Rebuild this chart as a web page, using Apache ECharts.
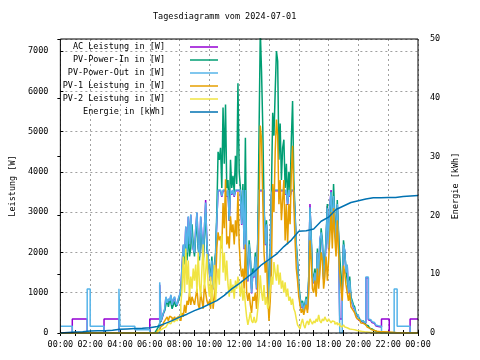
<!DOCTYPE html>
<html>
<head>
<meta charset="utf-8">
<script src="https://cdn.jsdelivr.net/npm/echarts@6/dist/echarts.min.js"></script>
<style>html,body{margin:0;padding:0;background:#fff}#c{width:480px;height:360px}</style>
</head>
<body>
<div id="c"></div>
<script>
// ---- data ----
const titleText = 'Tagesdiagramm vom 2024-07-01';
const seriesNames = ['AC Leistung in [W]', 'PV-Power-In in [W]', 'PV-Power-Out in [W]', 'PV-1 Leistung in [W]', 'PV-2 Leistung in [W]', 'Energie in [kWh]'];
const seriesColors = ['#9400d3', '#009e73', '#56b4e9', '#e69f00', '#f0e442', '#0072b2'];

// day arrays: 5-minute samples starting at 06:00
const dayStart = 6;
const samplesPerHour = 12;

// AC Leistung [W]
const acNight = [[0,0],[0.8,350],[1.8,0],[2.93,350],[3.93,0]];
const acDay = [
  350,350,350,350,350,350,350,350,1200,280,380,480,
  580,880,730,830,780,930,680,830,880,730,680,830,
  930,1080,1680,2180,1880,2630,1980,2880,2180,2930,2380,2080,
  1980,2580,2980,2180,1880,2880,2380,1780,2580,3300,2180,1880,
  1480,1280,1780,1080,1600,1880,2810,3530,3530,3530,3380,3530,
  3530,3530,3380,3530,2780,3530,3430,3530,3380,3530,3530,3530,
  3530,3430,2680,3530,2080,3530,1680,1280,2180,1780,980,1480,
  1380,1880,1080,2280,3530,3530,3530,3530,3080,2180,2680,1480,
  380,1880,3430,3530,3530,3530,3530,3530,3530,3530,3530,3530,
  3530,3430,3530,3180,3530,3380,3530,3530,3530,2880,2080,1680,
  1080,830,630,730,530,680,830,580,1280,3200,2280,1380,
  1230,1480,1130,1980,1380,2310,2480,2180,1330,1680,2280,3150,
  2080,3150,3550,2480,3380,2780,2180,3180,2380,350,350,980,
  2180,2030,1480,1680,980,1280,830,730,630,580,430,430,
  330,300,280,260,250,240,1370,1370,330,310,280,260,
  240,210,180,160,150,150
];
const acTail = [[21.55,350],[22.07,0],[23.47,350],[24,350]];

// PV-Power-In [W]
const pvInNight = [[0,0]];
const pvInDay = [
  0,0,0,0,0,50,100,150,250,300,400,500,
  550,700,810,650,820,750,600,700,780,650,720,800,
  900,1000,1400,2000,1700,2300,1800,2500,1900,2100,2700,2200,
  1900,2400,2800,2100,1800,2600,2300,1700,2400,3000,2100,1800,
  1600,1400,1900,1200,1700,2000,3000,4500,4300,4600,3600,5600,
  4200,5675,3600,3800,2800,4300,3600,3900,3500,4400,3700,6200,
  4000,3600,2800,3700,2200,4850,1800,1400,2300,1900,1100,1600,
  1500,2000,1200,2400,5000,7500,6500,5100,3200,2300,2800,1600,
  900,2100,3600,5470,4900,6000,7000,6750,4300,5200,3800,4600,
  4800,3600,4200,3300,4000,3500,4800,5760,3800,3000,2200,1800,
  1200,900,700,800,600,750,900,650,1400,3100,2400,1500,
  1300,1600,1200,2100,1500,1900,2600,2300,1400,1800,2400,3200,
  2200,2900,3500,2600,3700,2900,2300,3300,2500,1900,1400,1100,
  2300,2000,1600,1300,1100,1400,900,800,700,650,500,450,
  400,350,300,300,280,250,200,180,150,120,100,80,
  60,40,30,20,10,0
];
const pvInTail = [[21.5,0],[24,0]];

// PV-Power-Out [W]
const pvOutNight = [[0,170],[0.8,0],[1.8,1090],[2.0,170],[2.93,0],[3.93,1100],[4.0,170],[5.0,80]];
const pvOutDay = [
  0,0,0,0,0,0,0,0,1260,300,400,500,
  600,900,750,850,800,950,700,850,900,750,700,850,
  950,1100,1700,2200,1900,2650,2000,2900,2200,2950,2400,2100,
  2000,2600,3000,2200,1900,2900,2400,1800,2600,3240,2200,1900,
  1500,1300,1800,1100,1600,1900,2830,3550,3550,3550,3400,3550,
  3550,3550,3400,3550,2800,3550,3450,3550,3400,3550,3550,3550,
  3550,3450,2700,3550,2100,3550,1700,1300,2200,1800,1000,1500,
  1400,1900,1100,2300,3550,3550,3550,3550,3100,2200,2700,1500,
  400,1900,3450,3550,3550,3550,3550,3550,3550,3550,3550,3550,
  3550,3450,3550,3200,3550,3400,3550,3550,3550,2900,2100,1700,
  1100,850,650,750,550,700,850,600,1300,3120,2300,1400,
  1250,1500,1150,2000,1400,2330,2500,2200,1350,1700,2300,3100,
  2100,3170,3500,2500,3400,2800,2200,3200,2400,0,0,1000,
  2200,2050,1500,1700,1000,1300,850,750,650,600,450,450,
  350,320,300,280,270,260,1390,1390,350,330,300,280,
  260,230,200,180,170,170
];
const pvOutTail = [[21.55,0],[22.4,1090],[22.6,170],[23.47,0],[24,0]];

// PV-1 Leistung [W]
const pv1Night = [[0,0]];
const pv1Day = [
  0,0,0,0,0,0,50,80,120,160,200,250,
  300,350,400,300,420,380,300,350,400,320,380,420,
  450,300,500,400,700,500,800,700,1000,700,900,800,
  700,900,1100,700,600,1000,800,600,1200,1000,800,700,
  800,600,1200,600,900,1200,2100,2500,2300,2400,2100,3230,
  2600,3820,2200,2400,2100,2900,2500,2700,2200,2800,2400,3500,
  2200,1675,1400,1600,1100,2200,1000,800,1000,700,500,900,
  800,1000,600,1200,3000,5150,4800,3300,2000,1500,1800,900,
  300,800,1600,3700,3000,4500,5300,4900,3200,3800,2800,3300,
  3800,2300,3200,2200,3200,2700,4000,4650,3200,2300,1600,1300,
  900,700,500,600,450,600,700,500,1000,2300,1800,1100,
  1000,1300,900,1600,1100,1500,2000,1800,1100,1400,1900,1300,
  1800,2400,3000,2100,3100,2400,1900,2800,2000,1500,1100,800,
  1675,1500,1200,1000,800,1000,650,600,550,500,400,350,
  320,280,250,240,220,200,170,150,120,100,80,70,
  60,50,45,40,35,30
];
const pv1Tail = [[21.5,25],[22.0,15],[22.5,0],[24,0]];

// PV-2 Leistung [W]
const pv2Night = [[0,0]];
const pv2Day = [
  0,0,0,0,0,0,30,50,80,100,120,150,
  150,180,200,250,230,260,300,280,320,350,300,380,
  420,700,1100,1900,1000,2100,1200,1800,900,1400,1100,1600,
  1300,1700,1000,2000,1200,900,1600,2200,1100,1500,1960,1200,
  900,1400,700,1200,1690,800,1300,1600,1200,2180,2450,1500,
  2000,1300,1800,1200,900,1340,1000,1200,850,1300,1100,1400,
  1200,900,1300,800,1100,700,400,200,350,520,300,250,
  400,250,300,600,900,1430,1000,800,1190,700,900,600,
  700,1100,1400,1200,1760,1500,1300,1700,1200,1500,1100,1300,
  1000,1260,900,1100,800,900,700,850,600,520,350,200,
  150,100,250,350,200,120,250,300,200,350,280,220,
  300,250,350,280,450,300,250,350,300,400,330,280,
  350,300,250,300,280,220,260,200,240,180,150,170,
  200,150,130,120,100,110,90,100,80,70,60,60,
  50,50,40,40,30,30,25,25,20,20,10,10,
  0,0,0,0,0,0
];
const pv2Tail = [[24,0]];

// Energie [kWh], 30-minute samples from 00:00 to 24:00
const energyHours = [0,0.5,1,1.5,2,2.5,3,3.5,4,4.5,5,5.5,6,6.5,7,7.5,8,8.5,9,9.5,10,10.5,11,11.5,12,12.5,13,13.5,14,14.5,15,15.5,16,16.5,17,17.5,18,18.5,19,19.5,20,20.5,21,21.5,22,22.5,23,23.5,24];
const energyKWh = [0,0.1,0.15,0.2,0.35,0.4,0.4,0.45,0.65,0.7,0.75,0.8,0.9,1.1,1.6,2.1,2.7,3.2,3.8,4.3,4.9,5.5,6.4,7.5,8.4,9.4,10.4,11.6,12.5,13.4,14.7,15.8,17.3,17.4,17.7,19.0,19.7,21.0,21.6,22.2,22.5,22.8,23.0,23.0,23.05,23.05,23.2,23.3,23.4];

// ---- build ----
function dayPoints(arr) { return arr.map((v, i) => [dayStart + i / samplesPerHour, v]); }
const FONT = 'DejaVu Sans Mono';
const FS = 8.5;

const chart = echarts.init(document.getElementById('c'), null, {renderer: 'canvas'});

function powerSeries(idx, data) {
  return {
    name: seriesNames[idx], type: 'line', xAxisIndex: 0, yAxisIndex: 0,
    step: 'end', showSymbol: false, symbol: 'none', data: data,
    lineStyle: {width: 1.5, color: seriesColors[idx]},
    itemStyle: {color: seriesColors[idx]},
    emphasis: {disabled: true}
  };
}

const option = {
  animation: false,
  backgroundColor: '#fff',
  title: {
    text: titleText, left: 153, top: 12, padding: 0,
    textStyle: {fontFamily: FONT, fontSize: FS, fontWeight: 'normal', color: '#000'}
  },
  legend: {
    orient: 'vertical', left: 55, top: 42, padding: 0, itemGap: 3,
    align: 'right', icon: 'rect', itemWidth: 28, itemHeight: 1.5,
    data: seriesNames,
    formatter: n => '{a|' + n + '}{b|}',
    textStyle: {
      fontFamily: FONT, fontSize: FS, color: '#000', lineHeight: 10,
      rich: {a: {width: 110, align: 'right', fontFamily: FONT, fontSize: FS, color: '#000', lineHeight: 10}, b: {width: 20}}
    }
  },
  grid: {left: 58, right: 62, top: 39, bottom: 27, show: true, borderColor: '#000', borderWidth: 1, z: 10, backgroundColor: 'transparent'},
  xAxis: [{
    type: 'value', min: 0, max: 24, interval: 2,
    axisLine: {show: false},
    axisTick: {show: true, inside: true, length: 3, lineStyle: {color: '#000'}},
    minorTick: {show: true, splitNumber: 2, length: 3, lineStyle: {color: '#000'}},
    splitLine: {show: true, lineStyle: {color: '#a0a0a0', type: [2, 3], width: 1}},
    axisLabel: {
      margin: 7, fontFamily: FONT, fontSize: FS, color: '#000',
      formatter: v => String(v % 24).padStart(2, '0') + ':00'
    }
  }, {
    type: 'value', position: 'top', min: 0, max: 24, interval: 2,
    axisLine: {show: false},
    axisTick: {show: true, inside: true, length: 3, lineStyle: {color: '#000'}},
    minorTick: {show: true, splitNumber: 2, length: 3, lineStyle: {color: '#000'}},
    splitLine: {show: false}, axisLabel: {show: false}
  }],
  yAxis: [{
    type: 'value', min: 0, max: 7300, interval: 1000, position: 'left',
    name: 'Leistung [W]', nameLocation: 'middle', nameGap: 43,
    nameTextStyle: {fontFamily: FONT, fontSize: FS, color: '#000'},
    axisLine: {show: false},
    axisTick: {show: true, inside: true, length: 3, lineStyle: {color: '#000'}},
    splitLine: {show: true, lineStyle: {color: '#a0a0a0', type: [2, 3], width: 1}},
    axisLabel: {margin: 12, fontFamily: FONT, fontSize: FS, color: '#000', showMaxLabel: false,
      formatter: v => (v % 1000 === 0 ? String(v) : '')}
  }, {
    type: 'value', min: 0, max: 50, interval: 10, position: 'right',
    name: 'Energie [kWh]', nameLocation: 'middle', nameGap: 33,
    nameTextStyle: {fontFamily: FONT, fontSize: FS, color: '#000'},
    axisLine: {show: false},
    axisTick: {show: true, inside: true, length: 3, lineStyle: {color: '#000'}},
    splitLine: {show: false},
    axisLabel: {margin: 12, fontFamily: FONT, fontSize: FS, color: '#000'}
  }],
  series: [
    powerSeries(0, acNight.concat(dayPoints(acDay), acTail)),
    powerSeries(1, pvInNight.concat(dayPoints(pvInDay), pvInTail)),
    powerSeries(2, pvOutNight.concat(dayPoints(pvOutDay), pvOutTail)),
    powerSeries(3, pv1Night.concat(dayPoints(pv1Day), pv1Tail)),
    powerSeries(4, pv2Night.concat(dayPoints(pv2Day), pv2Tail)),
    {
      name: seriesNames[5], type: 'line', xAxisIndex: 0, yAxisIndex: 1,
      showSymbol: false, symbol: 'none',
      data: energyHours.map((h, i) => [h, energyKWh[i]]),
      lineStyle: {width: 1.5, color: seriesColors[5]},
      itemStyle: {color: seriesColors[5]},
      emphasis: {disabled: true}
    }
  ]
};
chart.setOption(option);
</script>
</body>
</html>
